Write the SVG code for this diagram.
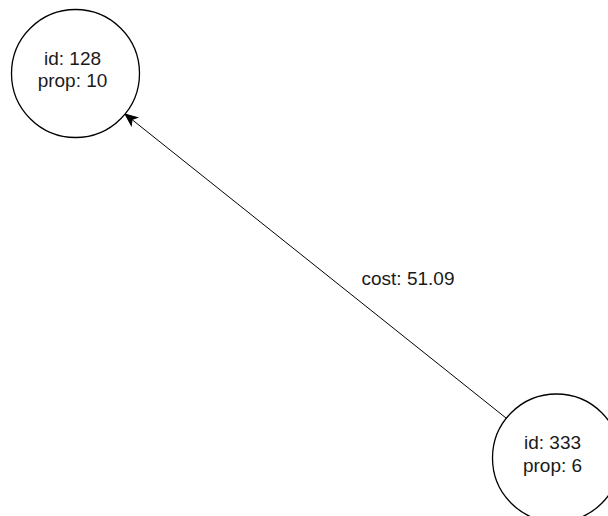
<svg xmlns="http://www.w3.org/2000/svg" width="608" height="516" viewBox="0 0 608 516">
  <style>
    .node { fill: #ffffff; stroke: #000000; stroke-width: 1.3; }
    .label { font-family: "Liberation Sans", Arial, Helvetica, sans-serif; font-size: 19px; fill: #1a1a1a; text-anchor: middle; }
    .edge { stroke: #000000; stroke-width: 1; fill: none; }
  </style>
  <defs>
    <marker id="arrow" markerUnits="userSpaceOnUse" markerWidth="14" markerHeight="12" viewBox="-13 -6 14 12" refX="0" refY="0" orient="auto">
      <path d="M0,0 L-12,-5 L-9,0 L-12,5 Z" fill="#000000" stroke="#000000" stroke-width="1"/>
    </marker>
  </defs>
  <rect width="608" height="516" fill="#ffffff"/>
  <g id="connectors">
    <line class="edge" x1="506" y1="418" x2="125" y2="114" marker-end="url(#arrow)"/>
    <text class="label" x="408" y="285">cost: 51.09</text>
  </g>
  <g id="node-128">
    <circle class="node" cx="75.5" cy="73.5" r="64"/>
    <text class="label" x="72.5" y="65">id: 128</text>
    <text class="label" x="72.5" y="87">prop: 10</text>
  </g>
  <g id="node-333">
    <circle class="node" cx="556.5" cy="458" r="64"/>
    <text class="label" x="552.5" y="449">id: 333</text>
    <text class="label" x="552.5" y="472">prop: 6</text>
  </g>
</svg>
